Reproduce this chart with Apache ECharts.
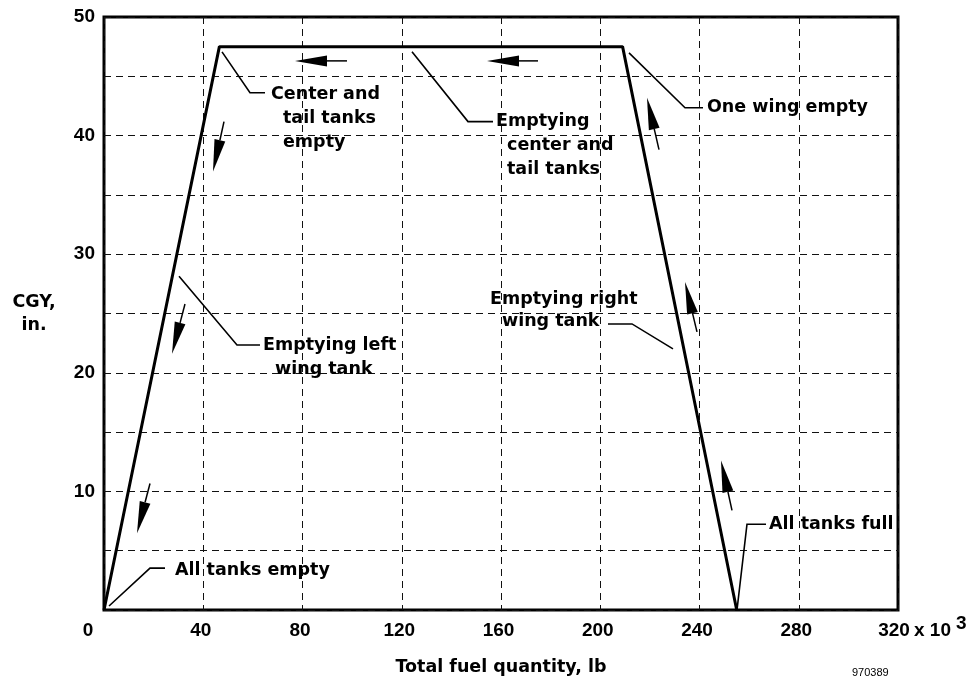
<!DOCTYPE html>
<html><head><meta charset="utf-8">
<script src="https://cdn.jsdelivr.net/npm/echarts@6/dist/echarts.min.js"></script>
<style>html,body{margin:0;padding:0;background:#fff}#c{width:979px;height:681px}</style>
</head><body><div id="c"></div>
<script>
// Main curve: total fuel quantity (x 10^3 lb) vs CGY (in.)
const fuelQty = [0, 46.5, 209, 255];
const cgyIn   = [0, 47.5, 47.5, 0];
const xTicks = [0, 40, 80, 120, 160, 200, 240, 280, 320];
const yTickLabels = [10, 20, 30, 40, 50];

// Annotation leader lines (data coordinates)
const leaderLines = [
  [[47.56, 47.06], [58.84, 43.61], [64.89, 43.61]],
  [[124.13, 47.06], [146.70, 41.18], [156.78, 41.18]],
  [[211.59, 46.97], [234.16, 42.35], [241.41, 42.35]],
  [[30.23, 28.15], [53.60, 22.35], [62.87, 22.35]],
  [[203.12, 24.12], [212.80, 24.12], [229.32, 22.02]],
  [[255.11, 0], [259.14, 7.23], [266.80, 7.23]],
  [[2.02, 0.34], [18.54, 3.53], [24.58, 3.53]]
];
// Annotation text lines: [text, x, y] (left edge, vertical middle) in data coordinates
const noteText = [
  ['Center and', 67.30, 43.45],
  ['tail tanks', 72.14, 41.43],
  ['empty', 72.14, 39.41],
  ['Emptying', 157.98, 41.18],
  ['center and', 162.42, 39.16],
  ['tail tanks', 162.42, 37.14],
  ['One wing empty', 243.02, 42.35],
  ['Emptying left', 64.08, 22.27],
  ['wing tank', 68.92, 20.25],
  ['Emptying right', 155.57, 26.22],
  ['wing tank', 160.40, 24.29],
  ['All tanks full', 268.01, 7.23],
  ['All tanks empty', 28.61, 3.36]
];
// Direction arrows: [tail, tip] in data coordinates
const arrows = [
  [[97.93, 46.30], [76.98, 46.30]],
  [[174.91, 46.30], [154.36, 46.30]],
  [[48.36, 41.18], [43.93, 36.97]],
  [[32.64, 25.80], [27.41, 21.60]],
  [[18.54, 10.67], [13.30, 6.47]],
  [[223.68, 38.82], [218.84, 43.19]],
  [[238.99, 23.45], [234.16, 27.65]],
  [[253.10, 8.40], [248.66, 12.61]]
];

const chart = echarts.init(document.getElementById('c'), null, {renderer: 'canvas'});
const tickFont = {fontFamily: '"Liberation Sans", Arial, sans-serif', fontWeight: 'bold', fontSize: 19, color: '#000'};
const noteFont = '"DejaVu Sans", sans-serif';
const dash = {color: '#111', width: 1, type: [7, 5]};

chart.setOption({
  animation: false,
  backgroundColor: '#fff',
  grid: {left: 104, right: 81, top: 17, bottom: 69, show: true, borderColor: '#000', borderWidth: 3, backgroundColor: 'transparent'},
  xAxis: {
    type: 'value', min: xTicks[0], max: xTicks[xTicks.length - 1], interval: 40,
    axisLine: {show: false}, axisTick: {show: false},
    splitLine: {show: true, lineStyle: dash},
    axisLabel: Object.assign({}, tickFont, {
      margin: 11,
      formatter: v => v === 0 ? '{z|0}' : (v === 320 ? '{e|320}' : (xTicks.indexOf(v) >= 0 ? '{n|' + v + '}' : '')),
      rich: {
        z: Object.assign({}, tickFont, {padding: [0, 32, 0, 0]}),
        e: Object.assign({}, tickFont, {padding: [0, 8, 0, 0]}),
        n: Object.assign({}, tickFont, {padding: [0, 5, 0, 0]})
      }
    }),
    name: 'Total fuel quantity, lb', nameLocation: 'middle', nameGap: 48,
    nameTextStyle: {fontFamily: noteFont, fontWeight: 'bold', fontSize: 17.5, color: '#000'}
  },
  yAxis: {
    type: 'value', min: 0, max: 50, interval: 5,
    axisLine: {show: false}, axisTick: {show: false},
    splitLine: {show: true, lineStyle: dash},
    axisLabel: Object.assign({}, tickFont, {
      margin: 9,
      formatter: v => yTickLabels.indexOf(v) >= 0 ? String(v) : ''
    }),
    name: 'CGY,\nin.', nameLocation: 'middle', nameRotate: 0, nameGap: 70,
    nameTextStyle: {fontFamily: noteFont, fontWeight: 'bold', fontSize: 17.5, color: '#000', lineHeight: 23, align: 'center'}
  },
  series: [{
    type: 'line', symbol: 'none', z: 5,
    data: fuelQty.map((x, i) => [x, cgyIn[i]]),
    lineStyle: {color: '#000', width: 3}
  }]
});

function px(p) { return chart.convertToPixel({gridIndex: 0}, p); }
const g = [];
leaderLines.forEach(pts => g.push({
  type: 'polyline', z: 10, shape: {points: pts.map(px)},
  style: {stroke: '#000', lineWidth: 1.6, fill: null}
}));
arrows.forEach(a => {
  const t = px(a[0]), h = px(a[1]);
  const dx = h[0] - t[0], dy = h[1] - t[1];
  const L = Math.hypot(dx, dy), ux = dx / L, uy = dy / L;
  const hl = 32, hw = 5.5;
  const bx = h[0] - ux * hl, by = h[1] - uy * hl;
  g.push({type: 'line', z: 10, shape: {x1: t[0], y1: t[1], x2: bx, y2: by}, style: {stroke: '#000', lineWidth: 1.5}});
  g.push({type: 'polygon', z: 10, shape: {points: [h, [bx - uy * hw, by + ux * hw], [bx + uy * hw, by - ux * hw]]}, style: {fill: '#000'}});
});
noteText.forEach(n => {
  const p = px([n[1], n[2]]);
  g.push({type: 'text', z: 11, x: p[0], y: p[1], style: {
    text: n[0], fill: '#000', fontFamily: noteFont, fontWeight: 'bold', fontSize: 17.5,
    align: 'left', verticalAlign: 'middle'
  }});
});
// "x 10^3" unit suffix after the last tick label
const last = px([xTicks[xTicks.length - 1], 0]);
g.push({type: 'text', z: 11, x: last[0] + 16, y: last[1] + 21, style: {
  text: 'x 10', fill: '#000', fontFamily: tickFont.fontFamily, fontWeight: 'bold', fontSize: 19, align: 'left', verticalAlign: 'middle'}});
g.push({type: 'text', z: 11, x: last[0] + 58, y: last[1] + 14, style: {
  text: '3', fill: '#000', fontFamily: tickFont.fontFamily, fontWeight: 'bold', fontSize: 19, align: 'left', verticalAlign: 'middle'}});
g.push({type: 'text', z: 11, x: 852, y: 673, style: {
  text: '970389', fill: '#000', fontFamily: '"Liberation Sans", Arial, sans-serif', fontSize: 11, align: 'left', verticalAlign: 'middle'}});
chart.setOption({graphic: g});
</script>
</body></html>
